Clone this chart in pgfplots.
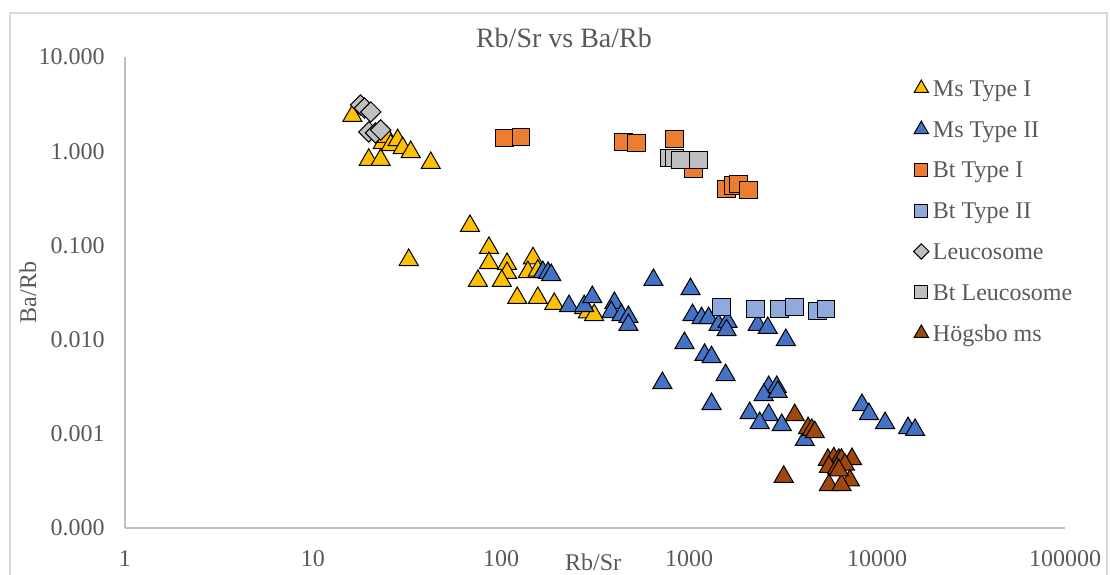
\documentclass[border=0pt]{standalone}
\usepackage{pgfplots}
\pgfplotsset{compat=1.18}
\usepackage{fontspec}
\setmainfont{Liberation Serif}
\definecolor{msone}{HTML}{FFC000}
\definecolor{mstwo}{HTML}{4472C4}
\definecolor{btone}{HTML}{ED7D31}
\definecolor{bttwo}{HTML}{8FAADC}
\definecolor{leuco}{HTML}{BFBFBF}
\definecolor{hogs}{HTML}{9E480E}
\definecolor{txtgray}{HTML}{595959}
\definecolor{axgray}{HTML}{BFBFBF}
\definecolor{framegray}{HTML}{D9D9D9}
\begin{document}
\fontsize{12pt}{14pt}\selectfont
\begin{tikzpicture}[x=1pt,y=1pt]
\useasboundingbox (0,0) rectangle (555,287);
% chart frame
\draw[framegray, line width=0.6pt] (5,-2) -- (5,280.5) -- (553.5,280.5) -- (553.5,-2);
\begin{axis}[
  at={(62.5pt,23pt)}, anchor=south west,
  scale only axis, width=470pt, height=235.5pt,
  xmode=log, ymode=log,
  xmin=1, xmax=100000, ymin=0.0001, ymax=10,
  axis x line*=bottom, axis y line*=left,
  axis line style={axgray, line width=0.8pt},
  major tick length=0pt, minor tick length=0pt,
  xtick={1,10,100,1000,10000,100000},
  xticklabels={1,10,100,1000,10000,100000},
  ytick={0.0001,0.001,0.01,0.1,1,10},
  yticklabels={0.000,0.001,0.010,0.100,1.000,10.000},
  tick label style={text=txtgray},
  xticklabel style={anchor=base, yshift=-19pt},
  yticklabel style={anchor=east, xshift=-6pt},
  title={Rb/Sr vs Ba/Rb},
  title style={at={(axis description cs:0.467,1)}, anchor=base, yshift=-1pt,
    font=\fontsize{14pt}{16pt}\selectfont, text=txtgray},
  xlabel={Rb/Sr},
  xlabel style={at={(axis description cs:0.498,0)}, anchor=base, yshift=-21pt, text=txtgray},
  ylabel={Ba/Rb},
  every axis y label/.style={at={(axis description cs:-0.1032,0.5)}, anchor=center, rotate=90, text=txtgray},
  legend style={at={(axis description cs:0.839,0.951)}, anchor=north west,
    draw=none, fill=none, inner sep=0pt, outer sep=0pt,
    row sep=12.45pt, column sep=2pt,
    nodes={inner sep=0pt, text height=7.9pt, text depth=0pt, text=txtgray}},
  legend cell align=left,
  legend image code/.code={\draw[/tikz/every mark/.append style={scale=0.75}] plot coordinates {(0pt,0pt)};},
]
% Ms Type I
\addplot[only marks, mark=triangle*, mark size=5.5pt,
  mark options={fill=msone, draw=black, line width=0.5pt}] table {
x y
16.2 2.37
19.8 0.81
22.9 0.81
23.5 1.22
24.7 1.42
25.9 1.16
28.2 1.31
30.0 1.08
33.1 0.98
42.3 0.75
32.3 0.070
68.4 0.161
86.3 0.094
86.3 0.065
75.4 0.042
107.7 0.0635
107.7 0.051
101 0.042
148 0.073
139 0.052
157 0.054
122 0.0277
157 0.0277
192 0.0239
277 0.0216
290 0.0195
313 0.0182
};
\addlegendentry{Ms Type I}
% Ms Type II
\addplot[only marks, mark=triangle*, mark size=5.5pt,
  mark options={fill=mstwo, draw=black, line width=0.5pt}] table {
x y
167 0.052
178 0.051
185 0.0485
647 0.043
230 0.0227
277 0.0227
306 0.0283
401 0.0245
386 0.0196
437 0.0182
476 0.0174
476 0.0143
1019 0.0344
1044 0.0182
1166 0.0169
1271 0.0169
1436 0.0143
1604 0.0154
1585 0.0126
2318 0.0143
2623 0.0133
3273 0.0099
946 0.0092
1210 0.0069
1318 0.0065
1566 0.0042
722 0.00346
1318 0.00207
2654 0.00314
2930 0.00314
2496 0.00258
2965 0.00278
2103 0.00166
2654 0.00158
2377 0.0013
3114 0.00124
4130 0.00086
8318 0.00202
9064 0.00162
11040 0.0013
14630 0.00115
15950 0.0011
};
\addlegendentry{Ms Type II}
% Bt Type I
\addplot[only marks, mark=square*, mark size=4.4pt,
  mark options={fill=btone, draw=black, line width=0.5pt}] table {
x y
104 1.38
128 1.41
448 1.25
525 1.22
837 1.35
1057 0.647
1585 0.397
1730 0.43
1837 0.449
2077 0.387
};
\addlegendentry{Bt Type I}
% Bt Type II
\addplot[only marks, mark=square*, mark size=4.4pt,
  mark options={fill=bttwo, draw=black, line width=0.5pt}] table {
x y
1490 0.0222
2264 0.0211
3038 0.0211
3652 0.0222
4842 0.0201
5346 0.0211
};
\addlegendentry{Bt Type II}
% Leucosome
\addplot[only marks, mark=square*, mark size=3.6pt,
  mark options={rotate=45, fill=leuco, draw=black, line width=0.5pt}] table {
x y
17.9 3.09
18.8 2.87
20.3 2.61
19.8 1.60
21.5 1.56
22.9 1.68
};
\addlegendentry{Leucosome}
% Bt Leucosome
\addplot[only marks, mark=square*, mark size=4.4pt,
  mark options={fill=leuco, draw=black, line width=0.5pt}] table {
x y
787 0.847
837 0.847
901 0.807
1124 0.807
};
\addlegendentry{Bt Leucosome}
% Hoegsbo muscovite
\addplot[only marks, mark=triangle*, mark size=5.5pt,
  mark options={fill=hogs, draw=black, line width=0.5pt}] table {
x y
3652 0.00158
4300 0.00115
4500 0.00110
4670 0.00104
3190 0.00035
5480 0.00053
5900 0.00055
6270 0.00053
6470 0.00053
7360 0.00054
5550 0.000445
6120 0.00043
6750 0.00047
7180 0.00032
5550 0.000286
6470 0.000286
6270 0.00041
};
\addlegendentry{Högsbo ms}
\end{axis}
\end{tikzpicture}
\end{document}
